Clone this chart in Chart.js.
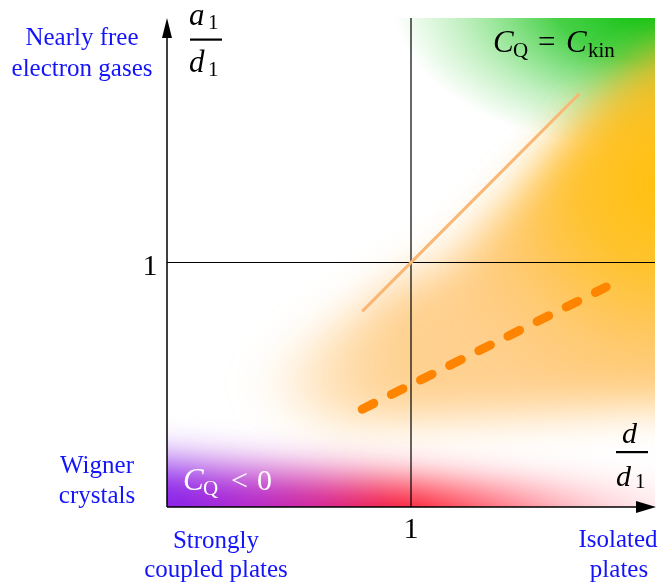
<!DOCTYPE html>
<html>
<head>
<meta charset="utf-8">
<script src="https://cdn.jsdelivr.net/npm/chart.js@4.4.1/dist/chart.umd.min.js"></script>
<style>
  html, body { margin: 0; padding: 0; background: #fff; }
  #wrap { width: 663px; height: 584px; }
</style>
</head>
<body>
<div id="wrap"><canvas id="c"></canvas></div>
<script>
// axes go from 0 to 2 (in units of d1 / a1), the "1" marks sit in the middle
const xRange = [0, 2];
const yRange = [0, 2];
const tickValues = [1];

// C_Q = C_kin boundary (solid light line) and the dashed orange line
const boundaryLine = [{ x: 0.8, y: 0.8 }, { x: 1.69, y: 1.69 }];
const dashedLine = [{ x: 0.8, y: 0.4 }, { x: 1.8, y: 0.9 }];
const crossV = [{ x: 1, y: 0 }, { x: 1, y: 2 }];
const crossH = [{ x: 0, y: 1 }, { x: 2, y: 1 }];

// shaded regions, in data units
const greenCenter = [2.02, 2.07];
const greenRadii = [1.1, 0.62];
const orangeBand = [
  [0.3, 0.5], [0.75, 0.78], [0.95, 0.92], [1.15, 1.0], [1.46, 1.29], [1.69, 1.57], [2.0, 1.86], [2.4, 1.95],
  [2.4, 0.4], [2.0, 0.42], [1.5, 0.38], [1.0, 0.36], [0.7, 0.34], [0.45, 0.4],
];
const orangeFade = [[0.35, 0], [0.5, 0.15], [0.67, 0.35], [0.85, 0.5], [1.0, 0.56]];
const orangeCenter = [2.05, 1.32];
const orangeRadius = 1.0;
const redBand = [[-0.3, -0.3], [-0.3, 0.2], [0.0, 0.18], [0.5, 0.14], [1.0, 0.1], [1.5, 0.07], [2.3, 0.04], [2.3, -0.3]];

const SERIF = '"Liberation Serif", "Times New Roman", serif';
const BLUE = 'rgb(20,20,250)';

const regions = {
  id: 'regions',
  beforeDatasetsDraw(chart) {
    const { ctx, chartArea: a, scales: { x, y } } = chart;
    const px = p => [x.getPixelForValue(p[0]), y.getPixelForValue(p[1])];
    const unit = x.getPixelForValue(1) - x.getPixelForValue(0);
    ctx.save();
    ctx.beginPath();
    ctx.rect(a.left, a.top, a.width, a.height);
    ctx.clip();

    // green corner (top right), elliptic fade
    const [gx, gy] = px(greenCenter);
    const rx = greenRadii[0] * unit, ry = greenRadii[1] * unit;
    ctx.save();
    ctx.translate(gx, gy);
    ctx.scale(1, ry / rx);
    const g = ctx.createRadialGradient(0, 0, 0, 0, 0, rx);
    g.addColorStop(0, 'rgba(0,190,0,1)');
    g.addColorStop(0.4, 'rgba(20,195,20,0.78)');
    g.addColorStop(0.75, 'rgba(50,205,50,0.3)');
    g.addColorStop(1, 'rgba(70,210,70,0)');
    ctx.fillStyle = g;
    ctx.fillRect(-2 * rx, -2 * rx, 4 * rx, 4 * rx);
    ctx.restore();

    const poly = (pts, fill, blur) => {
      ctx.save();
      ctx.filter = `blur(${blur}px)`;
      ctx.beginPath();
      pts.forEach((p, i) => {
        const [qx, qy] = px(p);
        i ? ctx.lineTo(qx, qy) : ctx.moveTo(qx, qy);
      });
      ctx.closePath();
      ctx.fillStyle = fill;
      ctx.fill();
      ctx.restore();
    };

    // orange / yellow band: fades in from the left tip, strongest yellow-orange at the right edge
    const x0 = x.getPixelForValue(orangeFade[0][0]);
    const x1 = x.getPixelForValue(orangeFade[orangeFade.length - 1][0]);
    const ob = ctx.createLinearGradient(x0, 0, x1, 0);
    orangeFade.forEach(([v, al]) => ob.addColorStop((x.getPixelForValue(v) - x0) / (x1 - x0), `rgba(255,172,55,${al})`));
    poly(orangeBand, ob, 22);
    const [ox, oy] = px(orangeCenter);
    const o = ctx.createRadialGradient(ox, oy, 0, ox, oy, orangeRadius * unit);
    o.addColorStop(0, 'rgba(255,190,0,0.95)');
    o.addColorStop(0.4, 'rgba(255,190,10,0.7)');
    o.addColorStop(0.75, 'rgba(255,185,40,0.22)');
    o.addColorStop(1, 'rgba(255,185,40,0)');
    poly(orangeBand, o, 22);

    // purple -> red band at the bottom
    const r = ctx.createLinearGradient(x.getPixelForValue(0), 0, x.getPixelForValue(2), 0);
    r.addColorStop(0, 'rgb(135,35,235)');
    r.addColorStop(0.17, 'rgb(180,40,205)');
    r.addColorStop(0.33, 'rgb(215,30,140)');
    r.addColorStop(0.45, 'rgb(245,20,60)');
    r.addColorStop(0.5, 'rgb(252,20,40)');
    r.addColorStop(0.7, 'rgba(255,80,100,0.85)');
    r.addColorStop(1, 'rgba(255,190,200,0.4)');
    poly(redBand, r, 20);
    ctx.restore();
  },
  afterDatasetsDraw(chart) {
    const { ctx, chartArea: a, scales: { x, y } } = chart;
    ctx.save();
    // axes with arrow heads
    ctx.strokeStyle = '#000';
    ctx.fillStyle = '#000';
    ctx.lineWidth = 1.5;
    ctx.beginPath();
    ctx.moveTo(a.left, a.bottom);
    ctx.lineTo(a.left, a.top + 18);
    ctx.moveTo(a.left, a.bottom);
    ctx.lineTo(a.right - 18, a.bottom);
    ctx.stroke();
    ctx.beginPath();
    ctx.moveTo(a.left, a.top);
    ctx.lineTo(a.left - 5, a.top + 20);
    ctx.lineTo(a.left + 5, a.top + 20);
    ctx.closePath();
    ctx.fill();
    ctx.beginPath();
    ctx.moveTo(a.right + 1, a.bottom);
    ctx.lineTo(a.right - 19, a.bottom - 6);
    ctx.lineTo(a.right - 19, a.bottom + 6);
    ctx.closePath();
    ctx.fill();

    // tick labels
    ctx.font = `30px ${SERIF}`;
    ctx.textAlign = 'center';
    tickValues.forEach(v => {
      ctx.fillText(String(v), x.getPixelForValue(v), a.bottom + 31);
      ctx.fillText(String(v), a.left - 17, y.getPixelForValue(v) + 12);
    });

    // text helper: pieces [text, font, dx, dy]
    const run = (x0, base, parts, color) => {
      ctx.fillStyle = color;
      ctx.textAlign = 'left';
      parts.forEach(([t, f, dx, dy]) => {
        ctx.font = f;
        ctx.fillText(t, x0 + dx, base + dy);
      });
    };
    const it = s => `italic ${s}px ${SERIF}`;
    const rm = s => `${s}px ${SERIF}`;

    // a1 / d1
    run(189, 25, [['a', it(31), 0, 0], ['1', rm(21), 19, 4]], '#000');
    run(189, 72, [['d', it(31), 0, 0], ['1', rm(21), 19, 4]], '#000');
    ctx.fillRect(190, 38.5, 32, 2.2);
    // d / d1
    run(622, 443, [['d', it(30), 0, 0]], '#000');
    run(616, 486, [['d', it(30), 0, 0], ['1', rm(21), 19, 2]], '#000');
    ctx.fillStyle = '#000';
    ctx.fillRect(616, 451, 32, 2.2);

    // C_Q = C_kin
    run(493, 52, [['C', it(31), 0, 0], ['Q', rm(21), 20, 5], ['=', rm(31), 45, 0], ['C', it(31), 73, 0], ['kin', rm(21), 95, 5]], '#000');
    // C_Q < 0
    run(183, 490, [['C', it(31), 0, 0], ['Q', rm(21), 20, 5], ['<', rm(30), 48, 0], ['0', rm(30), 74, 0]], '#fff');

    // blue region names
    ctx.fillStyle = BLUE;
    ctx.textAlign = 'center';
    ctx.font = rm(25);
    const lines = [
      ['Nearly free', 82, 45], ['electron gases', 82, 76],
      ['Wigner', 97, 473], ['crystals', 97, 503],
      ['Strongly', 216, 548], ['coupled plates', 216, 577],
      ['Isolated', 618, 547], ['plates', 619, 577],
    ];
    lines.forEach(([t, lx, ly]) => ctx.fillText(t, lx, ly));
    ctx.restore();
  }
};

new Chart(document.getElementById('c'), {
  type: 'scatter',
  data: {
    datasets: [
      { data: dashedLine, showLine: true, borderColor: '#ff8500', borderWidth: 9, borderDash: [13, 19.6], borderCapStyle: 'round', pointRadius: 0 },
      { data: boundaryLine, showLine: true, borderColor: 'rgb(250,182,115)', borderWidth: 3, pointRadius: 0 },
      { data: crossV, showLine: true, borderColor: '#000', borderWidth: 1.2, pointRadius: 0 },
      { data: crossH, showLine: true, borderColor: '#000', borderWidth: 1.2, pointRadius: 0 },
    ],
  },
  options: {
    responsive: true,
    maintainAspectRatio: false,
    animation: false,
    layout: { padding: { left: 167, top: 18, right: 8, bottom: 77 } },
    scales: {
      x: { type: 'linear', min: xRange[0], max: xRange[1], display: false },
      y: { type: 'linear', min: yRange[0], max: yRange[1], display: false },
    },
    plugins: { legend: { display: false }, tooltip: { enabled: false } },
  },
  plugins: [regions],
});
</script>
</body>
</html>
